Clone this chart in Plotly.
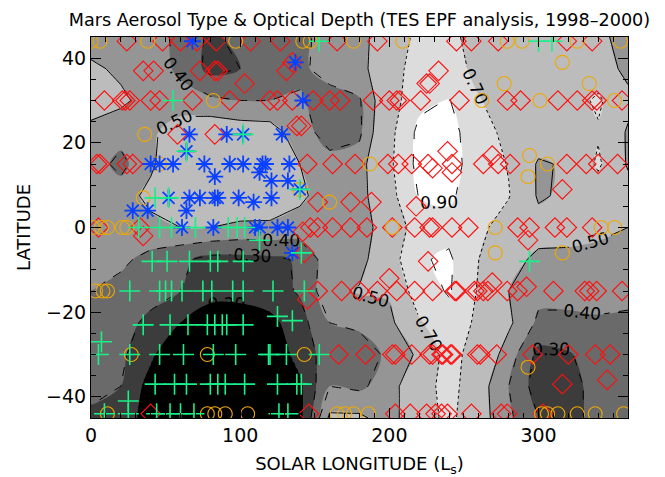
import numpy as np
import plotly.graph_objects as go

# ---------------- contour field (optical depth) ----------------
ls_grid = list(range(0, 361, 20))
lat_grid = [45, 37.5, 30, 22.5, 15, 7.5, 0, -7.5, -15, -22.5, -30, -37.5, -45]
tau = [
    [0.45, 0.45, 0.45, 0.37, 0.28, 0.33, 0.36, 0.38, 0.43, 0.46, 0.58, 0.75, 0.75, 0.62, 0.60, 0.58, 0.58, 0.55, 0.42],
    [0.52, 0.48, 0.45, 0.38, 0.27, 0.30, 0.35, 0.38, 0.44, 0.46, 0.60, 0.80, 0.78, 0.65, 0.60, 0.60, 0.60, 0.60, 0.45],
    [0.55, 0.52, 0.46, 0.44, 0.42, 0.40, 0.40, 0.41, 0.36, 0.39, 0.60, 0.85, 0.91, 0.71, 0.62, 0.60, 0.62, 0.73, 0.55],
    [0.47, 0.44, 0.48, 0.56, 0.58, 0.56, 0.55, 0.44, 0.36, 0.38, 0.64, 0.95, 0.98, 0.76, 0.66, 0.60, 0.62, 0.68, 0.48],
    [0.45, 0.37, 0.48, 0.60, 0.61, 0.60, 0.58, 0.50, 0.43, 0.45, 0.66, 0.96, 0.98, 0.80, 0.69, 0.48, 0.52, 0.73, 0.48],
    [0.45, 0.45, 0.53, 0.58, 0.60, 0.58, 0.57, 0.52, 0.45, 0.45, 0.63, 0.91, 0.93, 0.80, 0.71, 0.48, 0.53, 0.60, 0.58],
    [0.45, 0.42, 0.47, 0.50, 0.50, 0.48, 0.48, 0.46, 0.45, 0.45, 0.56, 0.80, 0.84, 0.74, 0.62, 0.56, 0.55, 0.53, 0.50],
    [0.45, 0.42, 0.37, 0.32, 0.27, 0.27, 0.28, 0.31, 0.46, 0.46, 0.60, 0.88, 0.93, 0.70, 0.55, 0.47, 0.47, 0.46, 0.46],
    [0.40, 0.37, 0.33, 0.30, 0.25, 0.25, 0.26, 0.31, 0.47, 0.51, 0.52, 0.80, 0.92, 0.68, 0.50, 0.43, 0.43, 0.43, 0.43],
    [0.37, 0.33, 0.28, 0.20, 0.12, 0.12, 0.17, 0.26, 0.40, 0.42, 0.46, 0.68, 0.82, 0.66, 0.52, 0.38, 0.38, 0.39, 0.38],
    [0.35, 0.32, 0.22, 0.10, 0.05, 0.05, 0.12, 0.24, 0.35, 0.35, 0.42, 0.52, 0.78, 0.60, 0.45, 0.27, 0.29, 0.35, 0.36],
    [0.33, 0.30, 0.16, 0.05, 0.05, 0.05, 0.08, 0.18, 0.40, 0.38, 0.45, 0.60, 0.78, 0.55, 0.40, 0.25, 0.27, 0.33, 0.36],
    [0.28, 0.26, 0.15, 0.05, 0.05, 0.05, 0.08, 0.17, 0.52, 0.52, 0.45, 0.60, 0.75, 0.55, 0.42, 0.30, 0.27, 0.33, 0.35],
]
line_levels = [0.2, 0.3, 0.4, 0.5, 0.7, 0.9]
line_dashes = ["dot", "dash", "dash", "solid", "dot", "longdash"]
band_colors = ["#000000", "#3c3c3c", "#6a6a6a", "#959595", "#bcbcbc",
               "#bcbcbc", "#dcdcdc", "#dcdcdc", "#ffffff"]

# ---------------- aerosol type observations (Ls, latitude) ----------------
dust_ls = [24, 48, 60, 71, 84, 107, 127, 165, 192, 245, 255, 273, 319, 336,
           35, 42, 73, 83, 85, 131, 135, 103, 227, 225, 233,
           9, 21, 23, 26, 40, 46, 68, 93, 120, 125, 135, 149, 160, 167, 189, 200, 205, 207, 221, 247, 279, 288, 313, 326, 336, 339, 356,
           138, 141, 58, 83,
           4, 6, 24, 28, 145, 162, 177, 199, 206, 215, 226, 242, 263, 273, 281, 319, 332, 340, 353,
           239, 269, 242, 229, 316, 152, 174, 188, 218,
           5, 33, 147, 152, 162, 174, 185, 202, 217, 227, 229, 242, 253, 286, 294, 311, 319, 336,
           142, 35, 293, 143, 226,
           152, 168, 180, 192, 205, 217, 229, 244, 245, 257, 259, 263, 266, 279, 286, 310, 331, 334, 339, 356,
           145, 200, 269, 292,
           166, 184, 202, 204, 215, 227, 229, 235, 236, 241, 242, 259, 261, 272, 296, 320, 338, 348,
           316, 346,
           40, 146, 204, 214, 225, 231, 235, 239, 255, 275, 279, 303]
dust_lat = [44] * 14 + \
           [37, 37, 37, 37, 37, 37, 39, 34, 34, 34, 37] + \
           [30] * 27 + \
           [24, 24, 22, 22] + \
           [15] * 19 + \
           [18, 17, 13, 14, 9, 6, 6, 6, 5] + \
           [0] * 18 + \
           [-1, -2, -3, -6, -8] + \
           [-15] * 20 + \
           [-17, -12, -13, -14] + \
           [-30] * 18 + \
           [-37, -36] + \
           [-44] * 12

ice_ls = [0, 6, 38, 97, 142, 147, 176, 209, 279, 289, 326, 355,
          316, 277, 334, 82, 262, 301, 351, 36, 294, 46, 187, 306, 293, 140, 35, 160,
          1, 7, 11, 21, 24, 202, 271, 342, 351, 271, 316, 3, 8, 11, 27, 78, 143, 293,
          11, 78, 83, 90, 105, 165, 170, 176, 186, 302, 306, 313, 326, 338, 357]
ice_lat = [44] * 12 + \
          [39, 34, 34, 30, 30, 30, 30, 22, 17, 15, 15, 15, 12, 9, 7, 6] + \
          [0] * 9 + [-6, -6, -15, -15, -15, -30, -30, -30, -33] + \
          [-44] * 15

type3_ls = [68, 137, 142, 128, 66, 91, 102, 64, 40, 46, 55, 76, 93, 102, 115, 117, 133,
            83, 113, 121, 132, 140, 52, 66, 73, 83, 85, 99, 109, 121, 28, 38, 64,
            61, 82, 110, 113, 125, 132, 135]
type3_lat = [44, 39, 30, 22, 22, 22, 22, 18, 15, 15, 15, 15, 15, 15, 15, 15, 15,
             12, 13, 11, 11, 9, 7, 7, 7, 7, 7, 7, 6, 7, 4, 4, 4,
             0, 0, 0, 0, 0, 0, -6]

type4_ls = [153, 300, 309, 55, 64, 102, 43, 52, 140, 32, 46, 54, 70, 92, 98, 103, 113, 141, 294,
            41, 51, 66, 80, 85, 102,
            26, 46, 50, 54, 61, 75, 81, 95, 102, 122, 143,
            125, 135, 35, 53, 65, 78, 83, 88, 91, 102, 7,
            5, 26, 46, 62, 82, 97, 119, 120, 131, 153,
            43, 56, 64, 80, 85, 90, 103, 125, 138, 141,
            9, 25, 44, 53, 60, 69, 126, 132, 25]
type4_lat = [44, 44, 44, 30, 18, 22, 7, 7, 9, 0, 0, 0, 0, 0, 0, 0, -3, -6, -8] + \
            [-8] * 6 + [-15] * 11 + \
            [-21, -22, -23, -23, -23, -23, -23, -23, -23, -23, -27] + \
            [-30] * 10 + [-37] * 10 + [-44] * 8 + [-41]

x_ticks = [0, 100, 200, 300]
y_ticks = [-40, -20, 0, 20, 40]

FONT = "DejaVu Sans"

# ---------------- build figure ----------------
lat_asc = lat_grid[::-1]
tau_asc = np.array(tau[::-1])
z10 = tau_asc * 10.0

nb = len(band_colors) - 1
cscale = []
for k, c in enumerate(band_colors):
    lo = max(0.0, (k - 0.5) / nb)
    hi = min(1.0, (k + 0.5) / nb)
    cscale.append([lo, c])
    cscale.append([hi, c])

fig = go.Figure()
fig.add_trace(go.Contour(
    x=ls_grid, y=lat_asc, z=z10, autocontour=False,
    contours=dict(start=2, end=9, size=1, coloring="fill", showlines=False),
    colorscale=cscale, showscale=False, line=dict(width=0), hoverinfo="skip"))

for lev, dash in zip(line_levels, line_dashes):
    fig.add_trace(go.Contour(
        x=ls_grid, y=lat_asc, z=tau_asc, autocontour=False,
        contours=dict(start=lev, end=lev, size=0.1, coloring="none",
                      showlabels=True, labelformat=".2f",
                      labelfont=dict(family=FONT, size=17, color="black")),
        line=dict(color="black", width=1, dash=dash, smoothing=0),
        showscale=False, hoverinfo="skip"))

fig.add_trace(go.Scatter(x=dust_ls, y=dust_lat, mode="markers", hoverinfo="skip",
                         marker=dict(symbol="diamond-open", size=15, color="#ff1010", line=dict(width=1.1))))
fig.add_trace(go.Scatter(x=ice_ls, y=ice_lat, mode="markers", hoverinfo="skip",
                         marker=dict(symbol="circle-open", size=14, color="#f0a800", line=dict(width=1.1))))
fig.add_trace(go.Scatter(x=type3_ls, y=type3_lat, mode="markers", hoverinfo="skip",
                         marker=dict(symbol="asterisk-open", size=14, color="#0a40ff", line=dict(width=1.8))))
fig.add_trace(go.Scatter(x=type4_ls, y=type4_lat, mode="markers", hoverinfo="skip",
                         marker=dict(symbol="cross-thin-open", size=15, color="#18f088", line=dict(width=1.6))))

axis_common = dict(showline=True, linecolor="black", linewidth=1, mirror="allticks",
                   ticks="inside", ticklen=10, tickwidth=1, tickcolor="black",
                   showgrid=False, zeroline=False,
                   tickfont=dict(family=FONT, size=19, color="black"))

fig.update_layout(
    width=665, height=477,
    margin=dict(l=91, r=37, t=37, b=59, autoexpand=False),
    paper_bgcolor="white", plot_bgcolor="white",
    showlegend=False,
    title=dict(text="Mars Aerosol Type &amp; Optical Depth (TES EPF analysis, 1998\u20132000)",
               x=0.5, xref="paper", xanchor="center",
               y=1 - 20 / 477, yref="container", yanchor="middle",
               font=dict(family=FONT, size=17.6, color="black")),
    xaxis=dict(range=[0, 360], tickvals=x_ticks,
               minor=dict(dtick=10, ticks="inside", ticklen=5, tickcolor="black", showgrid=False),
               title=dict(text="SOLAR LONGITUDE (L<sub>s</sub>)", standoff=17,
                          font=dict(family=FONT, size=18, color="black")),
               **axis_common),
    yaxis=dict(range=[-45, 45], tickvals=y_ticks,
               minor=dict(dtick=5, ticks="inside", ticklen=5, tickcolor="black", showgrid=False),
               title=dict(text="LATITUDE", standoff=10,
                          font=dict(family=FONT, size=18, color="black")),
               **axis_common),
)

fig.write_html("out.html", config={"displayModeBar": False, "staticPlot": True},
               post_script="document.body.style.margin='0';document.body.style.overflow='hidden';")
